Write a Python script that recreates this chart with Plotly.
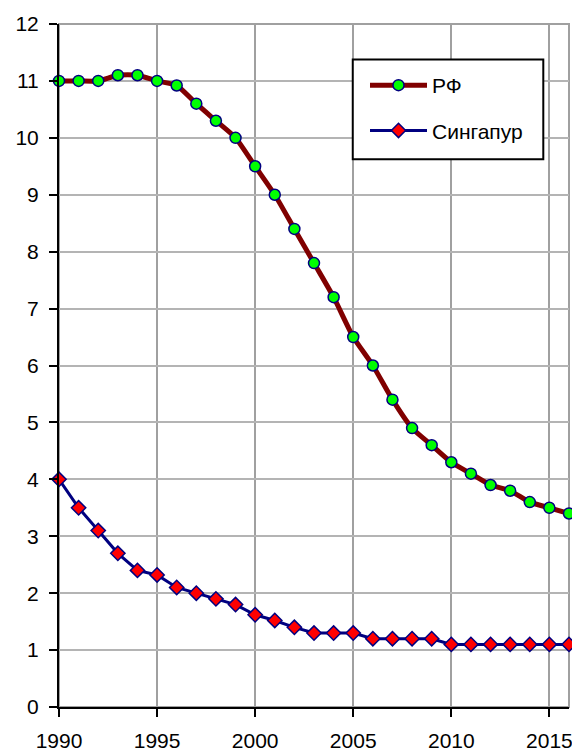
import plotly.graph_objects as go

years = list(range(1990, 2017))
rf = [11.0, 11.0, 11.0, 11.1, 11.1, 11.0, 10.92, 10.6, 10.3, 10.0, 9.5, 9.0, 8.4, 7.8,
      7.2, 6.5, 6.0, 5.4, 4.9, 4.6, 4.3, 4.1, 3.9, 3.8, 3.6, 3.5, 3.4]
singapore = [4.0, 3.5, 3.1, 2.7, 2.4, 2.32, 2.1, 2.0, 1.9, 1.8, 1.62, 1.52, 1.4, 1.3,
             1.3, 1.3, 1.2, 1.2, 1.2, 1.2, 1.1, 1.1, 1.1, 1.1, 1.1, 1.1, 1.1]

fig = go.Figure()
fig.add_trace(go.Scatter(
    x=years, y=rf, name="РФ", mode="lines+markers", legendgroup="a",
    line=dict(color="#800000", width=5, shape="spline", smoothing=0.6),
    marker=dict(symbol="circle", size=11, color="#00ff00", line=dict(color="#000080", width=1.5)),
    cliponaxis=False,
))
fig.add_trace(go.Scatter(
    x=years, y=singapore, name="Сингапур", mode="lines+markers", legendgroup="b",
    line=dict(color="#000080", width=3),
    marker=dict(symbol="diamond", size=11, color="#ff0000", line=dict(color="#000080", width=1.5)),
    cliponaxis=False,
))

# gray frame on top/right
fig.add_shape(type="rect", xref="paper", yref="paper", x0=0, y0=0, x1=1, y1=1,
              line=dict(color="#a0a0a0", width=2), layer="below")
# legend box (drawn as a shape so its size matches)
fig.add_shape(type="rect", xref="paper", yref="paper", x0=0.576, y0=0.802, x1=0.9496, y1=0.948,
              line=dict(color="black", width=2), fillcolor="white", layer="above")

# the page body has an 8px margin, so the figure is sized/offset to compensate
fig.update_layout(
    width=572, height=748,
    margin=dict(l=51, r=11, t=16, b=49),
    paper_bgcolor="white", plot_bgcolor="white",
    font=dict(family="Liberation Sans, Arial", size=21, color="black"),
    showlegend=True,
    legend=dict(
        x=0.6, y=0.94, xanchor="left", yanchor="top",
        bgcolor="rgba(0,0,0,0)", borderwidth=0,
        font=dict(size=21), itemwidth=57, tracegroupgap=15,
    ),
    xaxis=dict(
        range=[1990, 2016], tickmode="array", tickvals=[1990, 1995, 2000, 2005, 2010, 2015],
        showgrid=True, gridcolor="#a0a0a0", gridwidth=2,
        showline=True, linecolor="black", linewidth=2,
        ticks="outside", ticklen=8, tickcolor="black", tickwidth=1.5,
        ticklabelstandoff=6, zeroline=False, automargin=False,
    ),
    yaxis=dict(
        range=[0, 12], dtick=1,
        showgrid=True, gridcolor="#b4b4b4", gridwidth=2,
        showline=True, linecolor="black", linewidth=2,
        ticks="outside", ticklen=8, tickcolor="black", tickwidth=1.5,
        ticklabelstandoff=6, zeroline=False, automargin=False,
    ),
)

fig.write_html("out.html")
